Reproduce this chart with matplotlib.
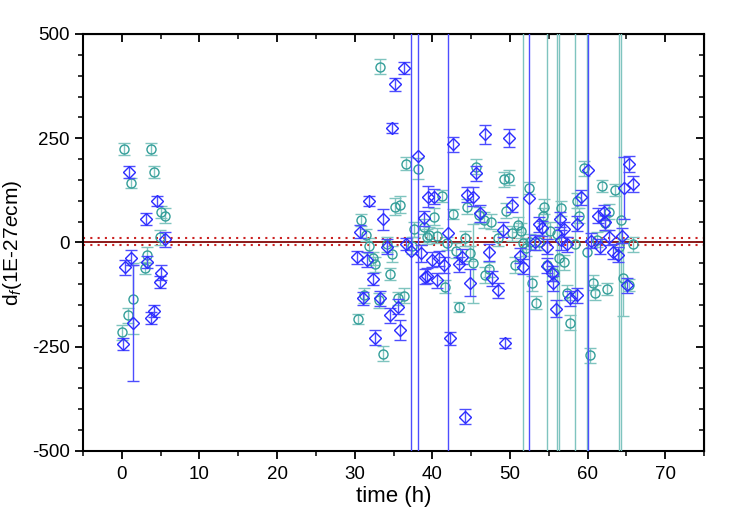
import numpy as np
import matplotlib
matplotlib.use("Agg")
import matplotlib.pyplot as plt
from matplotlib.ticker import MultipleLocator

plt.rcParams["font.family"] = ["Liberation Sans", "DejaVu Sans"]
plt.rcParams["mathtext.fontset"] = "custom"
plt.rcParams["mathtext.rm"] = "Liberation Sans"
plt.rcParams["mathtext.it"] = "Liberation Sans:italic"
plt.rcParams["axes.unicode_minus"] = False

BIG = 1000  # error bars that run off the plot

# teal circles: time (h), value, error
teal_x = [0.3, 3.7, 1.2, 4.1, 5.1, 5.5, 4.9, 3.3, 3.0, 1.5, 0.8, 0.0,
          33.3, 36.6, 38.1, 30.8, 35.2, 35.9, 31.5, 31.9, 34.1, 34.8, 32.3, 32.6,
          34.5, 31.2, 33.1, 30.4, 35.6, 36.3, 33.7, 37.7, 37.4, 38.9, 39.3,
          45.6, 41.2, 40.2, 39.6, 40.6, 42.7, 44.5, 46.0, 46.6, 47.6, 44.2, 41.9,
          43.0, 44.9, 45.3, 47.3, 46.8, 41.6, 43.4, 48.4, 49.2, 49.9, 49.5,
          52.4, 51.0, 51.4, 50.3, 54.4, 54.2, 55.1, 56.6, 58.7, 58.9, 51.7, 52.1,
          52.6, 53.8, 50.7, 52.9, 53.4, 54.8, 55.7, 56.3, 56.0, 57.0, 57.4, 57.8,
          59.6, 61.8, 63.6, 62.8, 62.2, 64.3, 64.0, 59.9, 58.4, 61.2, 65.8, 60.7,
          61.0, 62.5, 64.6, 65.4, 60.3]
teal_y = [224, 224, 143, 169, 73, 64, 13, -30, -61, -135, -174, -215,
          421, 189, 177, 54, 86, 91, 18, -8, -4, -28, -38, -52,
          -76, -126, -138, -184, -134, -128, -267, 32, -8, 38, 14,
          182, 112, 62, 18, 16, 68, 86, 66, 54, 50, 10, -2,
          -20, -26, -50, -64, -78, -106, -154, 10, 152, 155, 76,
          131, 42, 28, 22, 86, 64, 28, 82, 100, 64, -2, -14,
          2, 0, -54, -98, -144, -54, -74, -38, 20, -48, -120, -192,
          178, 136, 126, 74, 46, 54, -10, -23, -4, 6, -4, -96,
          -120, -112, -84, -102, -270]
teal_err = [15, 15, 12, 15, 15, 18, 18, 20, 15, 85, 18, 18,
            18, 15, 25, 15, 20, 20, 15, 18, 18, 20, 15, 18,
            15, 18, 18, 12, 15, 18, 18, 18, 20, 18, 18,
            18, 15, 20, 18, 18, 12, 18, 20, 20, 18, 18, 15,
            18, 18, 95, 18, 18, 15, 12, 18, 18, 18, 18,
            15, 18, 18, 18, 18, 18, 20, 18, 18, 18, BIG, 18,
            18, 18, 18, 18, 15, BIG, 18, BIG, BIG, 18, 18, 18,
            18, 15, 15, 18, 18, BIG, BIG, BIG, BIG, 18, 18, 18,
            18, 15, 92, 15, 18]

# blue diamonds
blue_x = [0.9, 4.5, 3.1, 5.5, 1.2, 0.4, 3.3, 5.1, 4.9, 4.1, 3.7, 1.5, 0.1,
          36.3, 35.2, 34.8, 38.1, 31.9, 33.7, 30.7, 30.3, 31.6, 34.1, 36.6, 37.3,
          32.3, 31.1, 33.2, 35.6, 34.5, 35.9, 32.6, 38.9, 39.5, 39.3, 38.6,
          42.7, 46.8, 45.6, 40.2, 44.5, 45.3, 46.2, 42.0, 39.9, 40.8, 41.5, 43.4,
          43.8, 39.1, 40.6, 47.3, 47.7, 48.4, 44.9, 42.3, 44.2, 49.4, 49.1,
          49.9, 52.4, 50.3, 53.7, 54.1, 56.4, 57.0, 58.7, 53.2, 54.8, 56.6, 57.4,
          51.3, 51.7, 54.8, 55.4, 55.6, 55.9, 57.8, 58.6,
          60.0, 65.4, 65.8, 64.7, 59.2, 61.4, 62.1, 62.2, 64.4, 60.4, 61.6, 62.8,
          63.3, 63.9, 65.1]
blue_y = [169, 100, 56, 8, -37, -59, -47, -73, -95, -164, -181, -193, -244,
          418, 379, 275, 208, 100, 56, 26, -36, -42, -10, -4, -20,
          -88, -134, -134, -154, -174, -210, -228, 58, 110, -80, -26,
          235, 259, 166, 110, 114, 110, 70, 23, -42, -38, -54, -52,
          -34, -82, -90, -24, -86, -114, -96, -230, -418, -242, 30,
          251, 107, 90, 44, 34, 56, 32, 45, 0, -10, 6, -4,
          -32, -58, -56, -74, -98, -159, -134, -126,
          174, 188, 140, 131, 108, 64, 72, 48, 16, 4, -10, 12,
          -22, -30, -102]
blue_err = [15, 12, 15, 18, 18, 18, 15, 18, 15, 15, 15, 140, 15,
            15, 15, 12, BIG, 12, 25, 15, 15, 18, 18, 15, BIG,
            15, 15, 18, 18, 18, 25, 18, 18, 25, 18, 20,
            18, 22, 18, 18, 18, 22, 20, BIG, 18, 18, 18, 18,
            18, 18, 18, 20, 18, 18, 33, 15, 18, 12, 18,
            22, BIG, 18, 18, 18, 18, 18, 18, 18, 18, 25, 18,
            18, 18, 18, 18, 18, 20, 18, 18,
            BIG, 20, 20, 75, 18, 18, 18, 18, 18, 18, 18, 18,
            18, 18, 18]

mean_val = 2
band = [11, -7]

fig = plt.figure(figsize=(7.36, 5.14), dpi=100)
ax = fig.add_axes([0.1128, 0.1226, 0.8437, 0.8113])

ax.axhline(mean_val, color="#8b1a1a", lw=1.4, zorder=1)
for b in band:
    ax.axhline(b, color="#cc2222", lw=1.5, ls=(0, (1, 2.5)), zorder=1)

ax.errorbar(teal_x, teal_y, yerr=teal_err, fmt="o", ms=6.5, mfc="none",
            mec="#339e99", mew=1.0, ecolor="#7fc4bf", elinewidth=1.0,
            capsize=4, capthick=1.0, zorder=3)
ax.errorbar(blue_x, blue_y, yerr=blue_err, fmt="D", ms=6.5, mfc="none",
            mec="#2b2bff", mew=1.0, ecolor="#4d4dff", elinewidth=1.0,
            capsize=4, capthick=1.0, zorder=4)

ax.set_xlim(-5, 75)
ax.set_ylim(-500, 500)
ax.set_xticks(np.arange(0, 71, 10))
ax.set_yticks([-500, -250, 0, 250, 500])
ax.xaxis.set_minor_locator(MultipleLocator(5))
ax.yaxis.set_minor_locator(MultipleLocator(50))
ax.tick_params(which="major", direction="out", length=6, width=1.3,
               labelsize=13.5, colors="black")
ax.tick_params(axis="x", which="major", pad=5)
ax.tick_params(which="minor", direction="out", length=3.5, width=1.1)
for s in ax.spines.values():
    s.set_linewidth(1.5)

top = ax.secondary_xaxis("top")
top.set_xticks(np.arange(0, 71, 10))
top.xaxis.set_minor_locator(MultipleLocator(5))
top.tick_params(which="major", direction="in", length=6, width=1.3, labeltop=False)
top.tick_params(which="minor", direction="in", length=3.5, width=1.1)
top.set_xticklabels([])

right = ax.secondary_yaxis("right")
right.set_yticks([-500, -250, 0, 250, 500])
right.yaxis.set_minor_locator(MultipleLocator(50))
right.tick_params(which="major", direction="in", length=6, width=1.3, labelright=False)
right.tick_params(which="minor", direction="in", length=3.5, width=1.1)
right.set_yticklabels([])

ax.set_xlabel("time (h)", fontsize=16, labelpad=2)
ax.set_ylabel(r"d$_f$(1E-27$\it{e}$cm)", fontsize=15, labelpad=6)

fig.savefig("out.png", dpi=100)
